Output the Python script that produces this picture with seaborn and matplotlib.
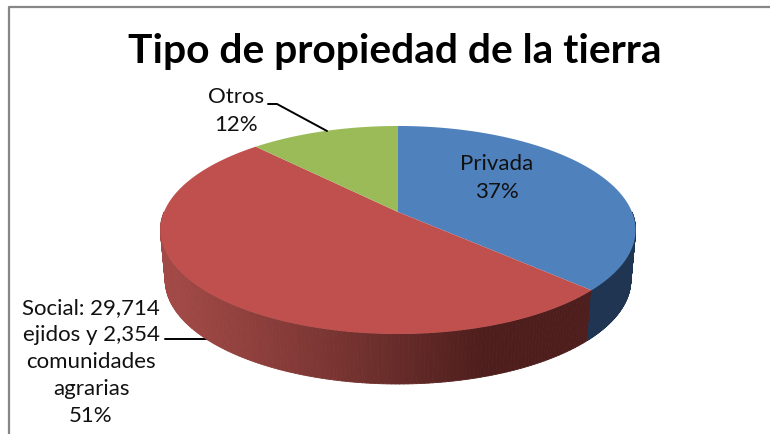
import matplotlib
matplotlib.use('Agg')
import matplotlib.pyplot as plt
import numpy as np
import seaborn as sns
from matplotlib.collections import PolyCollection
from matplotlib.colors import LinearSegmentedColormap
from matplotlib.path import Path
from matplotlib.transforms import Transform

categories = ['Privada', 'Social: 29,714\nejidos y 2,354\ncomunidades\nagrarias', 'Otros']
shares = [37, 51, 12]
pie_colors = ['#4f81bd', '#c0504d', '#9bbb59']

# pie is drawn in pixel-like coordinates so it lines up with the reference
W, H = 770, 434
CX, CY = 398, 212
A, B, K = 234.0, 100.9, 0.173  # perspective of the tilted disc
DEPTH = 50
SHRINK = 0.98


def project(u, v):
    w = 1 + K * v
    return CX + A * u / w, CY - B * v / w


class Tilt(Transform):
    input_dims = output_dims = 2

    def transform_non_affine(self, values):
        x, y = project(values[:, 0], values[:, 1])
        return np.column_stack([x, y])

    def transform_path_non_affine(self, path):
        # flatten the arcs first, the tilt is not affine
        pts = [seg(np.linspace(0, 1, 24)) for seg, _ in path.iter_bezier()]
        return Path(self.transform_non_affine(np.vstack(pts)))


sns.set_theme(style='white')
plt.rcParams['font.family'] = ['Lato', 'DejaVu Sans']

fig = plt.figure(figsize=(W / 100, H / 100), dpi=100)
ax = fig.add_axes([0, 0, 1, 1])

palette = sns.color_palette(pie_colors)
wedges, _ = ax.pie(shares, colors=palette, startangle=90, counterclock=False,
                   radius=1, center=(0, 0), frame=False)
ax.set_aspect('auto')
ax.set_xlim(0, W)
ax.set_ylim(H, 0)
ax.axis('off')

tilt = Tilt()
for w in wedges:
    w.set_transform(tilt + ax.transData)
    w.set_linewidth(0)
    w.set_zorder(5)

red_wall = LinearSegmentedColormap.from_list('red_wall', ['#a34a47', '#8a3d3a', '#6d2f2c', '#4e1e1d'])
blue_wall = '#1f3552'


def wall_quads(t1, t2):
    t = np.radians(np.linspace(t1, t2, 160))
    x, y = project(np.cos(t), np.sin(t))
    xb = CX + (x - CX) * SHRINK
    yb = y + DEPTH
    quads = [[(x[i], y[i]), (x[i + 1], y[i + 1]), (xb[i + 1], yb[i + 1]), (xb[i], yb[i])]
             for i in range(len(t) - 1)]
    return quads, (x[:-1] + x[1:]) / 2


corner = 360 - (shares[0] / 100 * 360 - 90)  # blue/red edge on the front rim
q, mid = wall_quads(180, corner)
colors = red_wall(np.clip((mid - 165) / (483 - 165), 0, 1))
ax.add_collection(PolyCollection(q, facecolors=colors, edgecolors=colors, linewidths=0.6, zorder=3))
q, mid = wall_quads(corner, 360)
ax.add_collection(PolyCollection(q, facecolors=blue_wall, edgecolors=blue_wall, linewidths=0.6, zorder=3))

# chart frame
ax.plot([8.5, 8.5, 770], [434, 6.5, 6.5], color='#868686', lw=1.6, solid_capstyle='butt', zorder=1)

ax.text(395, 51, 'Tipo de propiedad de la tierra', ha='center', va='center',
        fontsize=29.3, fontweight='bold', color='black', zorder=6)

label_kw = dict(ha='center', va='center', fontsize=16, color='#111111', linespacing=1.45, zorder=6)
ax.text(497, 178, '{}\n{}%'.format(categories[0], shares[0]), **label_kw)
ax.text(236, 111, '{}\n{}%'.format(categories[2], shares[2]), **label_kw)
ax.text(91, 362, '{}\n{}%'.format(categories[1], shares[1]), **label_kw)

ax.plot([268, 277, 327], [104, 104, 131], color='black', lw=1.4, zorder=6)
ax.plot([165, 207], [339, 339], color='black', lw=1.4, zorder=2)

fig.savefig('out.png', dpi=100)
